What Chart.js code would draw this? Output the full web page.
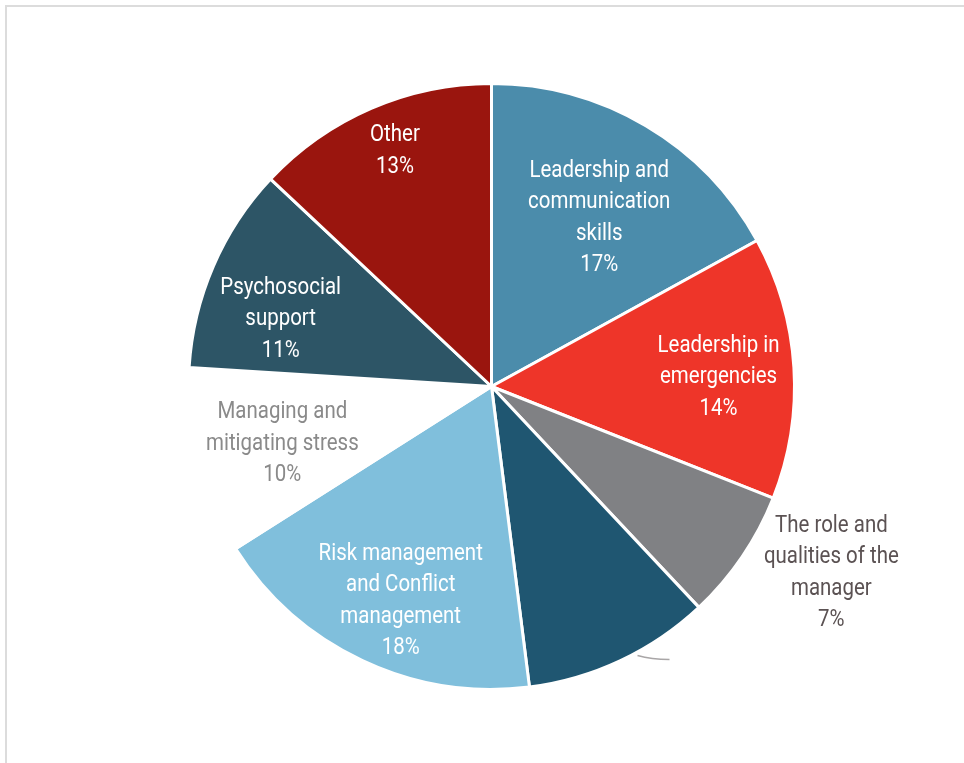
<!DOCTYPE html>
<html>
<head>
<meta charset="utf-8">
<script src="https://cdn.jsdelivr.net/npm/chart.js@4.4.1/dist/chart.umd.min.js"></script>
<style>
  html, body { margin: 0; padding: 0; background: #fff; }
  #wrap { position: relative; width: 964px; height: 763px; overflow: hidden; }
  #frame { position: absolute; left: 5px; top: 5px; right: -10px; bottom: -10px;
           border-top: 2px solid #dcdcdc; border-left: 2px solid #dcdcdc; }
  canvas { position: absolute; left: 0; top: 0; }
</style>
</head>
<body>
<div id="wrap">
  <div id="frame"></div>
  <canvas id="pieChart" width="964" height="763"></canvas>
</div>
<script>
// Topic shares, clockwise from 12 o'clock
const topics = [
    ['Leadership and', 'communication', 'skills'],
    ['Leadership in', 'emergencies'],
    ['The role and', 'qualities of the', 'manager'],
    [''],
    ['Risk management', 'and Conflict', 'management'],
    ['Managing and', 'mitigating stress'],
    ['Psychosocial', 'support'],
    ['Other']
];
const shares = [17, 14, 7, 10, 18, 10, 11, 13];
const sliceColors = ['#4b8cab', '#ee3529', '#808184', '#1f5671', '#80bfdc', '#ffffff', '#2d5566', '#9a150e'];
const labelColors = ['#fff', '#fff', '#5b5253', null, '#fff', '#8a8a8a', '#fff', '#fff'];

// label placement: [fraction of radius, angle offset in degrees]
const labelPlace = [[0.66, 2], [0.75, 1.3], [1.28, -5.4], null, [0.77, -2.3], [0.716, -1], [0.73, -5.8], [0.84, 1.1]];

const FONT = '"Roboto", sans-serif';
const SQUEEZE = 0.89; // narrow the glyphs a little, condensed look

const sliceLabels = {
    id: 'sliceLabels',
    afterDatasetsDraw(chart) {
        const ctx = chart.ctx;
        const meta = chart.getDatasetMeta(0);
        ctx.save();
        ctx.font = '23px ' + FONT;
        ctx.textAlign = 'center';
        ctx.textBaseline = 'middle';
        meta.data.forEach((arc, i) => {
            const p = labelPlace[i];
            const mid = (arc.startAngle + arc.endAngle) / 2 + angleOffset(p);
            if (!p) {
                // leader line left behind for the unlabelled slice
                const a = mid - 3.3 * Math.PI / 180;
                const sx = arc.x + Math.cos(a) * (arc.outerRadius + 3);
                const sy = arc.y + Math.sin(a) * (arc.outerRadius + 3);
                ctx.strokeStyle = '#a9a6a7';
                ctx.lineWidth = 1.5;
                ctx.beginPath();
                ctx.moveTo(sx, sy);
                ctx.quadraticCurveTo(sx + 14, sy + 4, sx + 32, sy + 4);
                ctx.stroke();
                return;
            }
            const r = arc.outerRadius * p[0];
            const x = arc.x + Math.cos(mid) * r;
            const y = arc.y + Math.sin(mid) * r;
            const lines = topics[i].concat([shares[i] + '%']);
            const lh = 31.5;
            const top = y - (lines.length - 1) * lh / 2;
            ctx.fillStyle = labelColors[i];
            lines.forEach((t, k) => {
                ctx.save();
                ctx.translate(x, top + k * lh);
                ctx.scale(SQUEEZE, 1);
                ctx.fillText(t, 0, 0);
                ctx.restore();
            });
        });
        ctx.restore();
    }
};

function angleOffset(p) {
    return p ? p[1] * Math.PI / 180 : 0;
}

const ctx = document.getElementById('pieChart').getContext('2d');
new Chart(ctx, {
    type: 'pie',
    data: {
        labels: topics.map(t => t.join(' ')),
        datasets: [{
            data: shares,
            backgroundColor: sliceColors,
            borderColor: '#ffffff',
            borderWidth: 3
        }]
    },
    options: {
        responsive: false,
        animation: false,
        layout: { padding: { left: 187, right: 168, top: 82, bottom: 72 } },
        plugins: {
            legend: { display: false },
            tooltip: { enabled: false }
        }
    },
    plugins: [sliceLabels]
});
</script>
</body>
</html>
